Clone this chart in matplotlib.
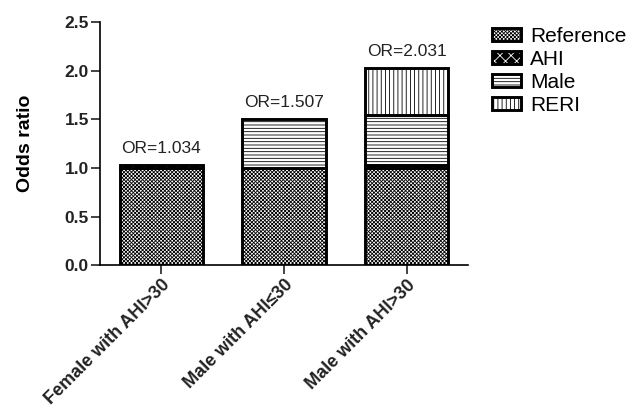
import matplotlib
matplotlib.use("Agg")
import matplotlib.pyplot as plt
from matplotlib.patches import Patch
from matplotlib.legend_handler import HandlerTuple
import numpy as np

plt.rcParams['font.family'] = ['Liberation Sans', 'DejaVu Sans']
plt.rcParams['hatch.linewidth'] = 0.6

categories = ["Female with AHI>30", "Male with AHI≤30", "Male with AHI>30"]
reference = [1.0, 1.0, 1.0]
ahi = [0.034, 0.0, 0.034]
male = [0.0, 0.507, 0.507]
reri = [0.0, 0.0, 0.490]
or_values = [1.034, 1.507, 2.031]

x = np.arange(len(categories))
width = 0.68
edge_lw = 2.1
ref_hatch = 'xxxxxxxxx'

fig = plt.figure(figsize=(6.29, 4.15), dpi=100)
ax = fig.add_axes([0.159, 0.361, 0.585, 0.586])

bottom = np.zeros(len(x))
# reference block: fine checker
ax.bar(x, reference, width, bottom=bottom, facecolor='white', edgecolor='black',
       hatch=ref_hatch, linewidth=edge_lw)
bottom += reference

# AHI block: black with white pattern
ahi_arr = np.array(ahi)
m = ahi_arr > 0
ax.bar(x[m], ahi_arr[m], width, bottom=bottom[m], facecolor='black', edgecolor='white',
       hatch='xxx', linewidth=0)
ax.bar(x[m], ahi_arr[m], width, bottom=bottom[m], fill=False, edgecolor='black',
       linewidth=edge_lw)
bottom += ahi_arr

male_arr = np.array(male)
m = male_arr > 0
ax.bar(x[m], male_arr[m], width, bottom=bottom[m], facecolor='white', edgecolor='black',
       hatch='-----', linewidth=edge_lw)
bottom += male_arr

reri_arr = np.array(reri)
m = reri_arr > 0
ax.bar(x[m], reri_arr[m], width, bottom=bottom[m], facecolor='white', edgecolor='black',
       hatch='||||', linewidth=edge_lw)
bottom += reri_arr

for xi, v in zip(x, or_values):
    ax.text(xi, v + 0.09, f"OR={v:.3f}", ha='center', va='bottom', fontsize=12.5,
            color='#222222')

ax.set_xlim(-0.5, 2.5)
ax.set_ylim(0, 2.5)
ax.set_yticks([0, 0.5, 1.0, 1.5, 2.0, 2.5])
ax.set_yticklabels([f"{t:.1f}" for t in ax.get_yticks()], fontweight='bold', fontsize=12.5)
ax.set_xticks(x)
ax.set_xticklabels(categories, rotation=45, ha='right', rotation_mode='anchor',
                   fontweight='bold', fontsize=13)
ax.set_ylabel("Odds ratio", fontweight='bold', fontsize=14)
ax.yaxis.set_label_coords(-0.18, 0.5)

for side in ['top', 'right']:
    ax.spines[side].set_visible(False)
for side in ['left', 'bottom']:
    ax.spines[side].set_linewidth(1.2)
ax.tick_params(axis='both', width=1.2, length=6.5, pad=1.5, colors='#222222')

handles = [
    Patch(facecolor='white', edgecolor='black', hatch=ref_hatch, linewidth=edge_lw),
    (Patch(facecolor='black', edgecolor='white', hatch='xxx', linewidth=0),
     Patch(fill=False, edgecolor='black', linewidth=edge_lw)),
    Patch(facecolor='white', edgecolor='black', hatch='-----', linewidth=edge_lw),
    Patch(facecolor='white', edgecolor='black', hatch='||||', linewidth=edge_lw),
]
fig.legend(handles, ["Reference", "AHI", "Male", "RERI"],
           handler_map={tuple: HandlerTuple(ndivide=1, pad=0)},
           loc='upper left', bbox_to_anchor=(0.782, 0.936), frameon=False,
           fontsize=15, handlelength=1.4, handleheight=0.6, handletextpad=0.45,
           labelspacing=0.2, borderaxespad=0, borderpad=0)

fig.savefig("out.png", dpi=100)
